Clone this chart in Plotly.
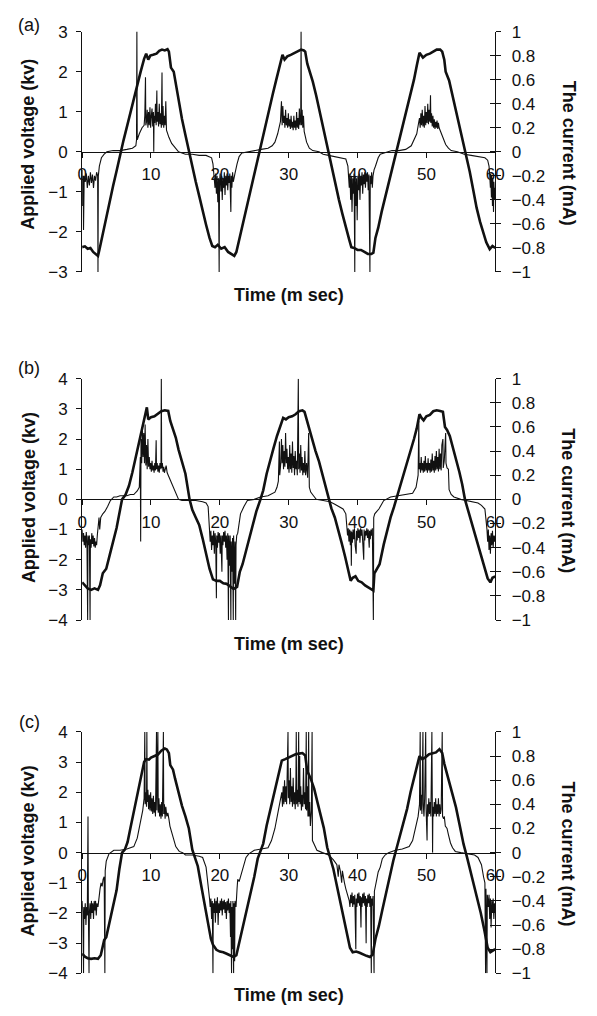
import plotly.graph_objects as go

# ---------------- Panel (a) ----------------
a_volt_t = [0, 0.4, 0.8, 1.2, 1.6, 2.0, 2.3, 2.5, 2.8, 3.1, 3.5, 4.0, 4.5, 5.0, 5.6, 6.0, 6.5, 7.0, 7.5, 8.0,
            8.5, 9.0, 9.3, 9.6, 9.9, 10.3, 10.8, 11.2, 11.6, 12.0, 12.4, 12.6, 12.9, 13.3, 13.6, 14.0, 14.5,
            15.0, 15.5, 16.0, 16.5, 17.0, 17.5, 18.0, 18.5, 18.9, 19.3, 19.7, 20.2, 20.7, 21.2, 21.7, 22.1,
            22.4, 22.8, 23.2, 23.7, 24.2, 24.7, 25.2, 25.7, 26.2, 26.7, 27.2, 27.7, 28.2, 28.7, 29.1, 29.4,
            29.8, 30.3, 30.8, 31.3, 31.8, 32.2, 32.4, 32.7, 33.0, 33.5, 34.0, 34.5, 35.0, 35.4, 35.8, 36.3,
            36.8, 37.3, 37.8, 38.3, 38.8, 39.1, 39.5, 40.0, 40.5, 41.0, 41.5, 42.0, 42.3, 42.6, 43.0, 43.5,
            44.0, 44.5, 45.0, 45.7, 46.2, 46.7, 47.2, 47.7, 48.2, 48.6, 49.0, 49.5, 50.0, 50.5, 51.0, 51.5,
            52.0, 52.3, 52.6, 52.8, 53.3, 53.8, 54.3, 54.8, 55.2, 55.8, 56.3, 56.8, 57.3, 57.8, 58.3, 58.7,
            59.2, 59.6, 60.0]
a_volt_kv = [-2.38, -2.36, -2.42, -2.4, -2.5, -2.55, -2.6, -2.45, -2.2, -1.95, -1.65, -1.25, -0.85, -0.48, 0.0,
             0.28, 0.62, 0.98, 1.32, 1.65, 2.0, 2.32, 2.45, 2.3, 2.4, 2.42, 2.45, 2.52, 2.55, 2.53, 2.56, 2.5,
             2.1, 2.0, 1.7, 1.28, 0.82, 0.42, 0.0, -0.38, -0.75, -1.1, -1.48, -1.82, -2.15, -2.35, -2.38, -2.32,
             -2.42, -2.38, -2.5, -2.55, -2.6, -2.5, -2.2, -1.9, -1.5, -1.1, -0.72, -0.35, 0.0, 0.35, 0.72, 1.08,
             1.45, 1.8, 2.15, 2.42, 2.3, 2.38, 2.42, 2.46, 2.5, 2.55, 2.53, 2.5, 2.2, 2.05, 1.75, 1.4, 1.0, 0.6,
             0.3, 0.0, -0.42, -0.82, -1.2, -1.55, -1.9, -2.2, -2.38, -2.4, -2.45, -2.45, -2.5, -2.55, -2.55,
             -2.52, -2.15, -1.9, -1.5, -1.15, -0.8, -0.45, 0.0, 0.4, 0.75, 1.1, 1.45, 1.8, 2.15, 2.47, 2.35,
             2.42, 2.45, 2.5, 2.55, 2.55, 2.5, 2.3, 2.0, 1.78, 1.4, 1.04, 0.7, 0.38, -0.05, -0.5, -0.95, -1.4,
             -1.75, -2.05, -2.26, -2.43, -2.35, -2.4]
a_curr_t = [0.0, 0.05, 0.15, 0.2, 0.3, 0.45, 0.6, 0.75, 0.9, 1.05, 1.2, 1.35, 1.5, 1.65, 1.8, 1.95, 2.1, 2.25,
            2.3, 2.35, 2.5, 2.8, 3.2, 3.6, 4.5, 5.5, 6.5, 7.3, 7.8, 7.9, 7.95, 8.0, 8.3, 8.7, 9.0, 9.1, 9.2,
            9.25, 9.35, 9.45, 9.55, 9.65, 9.75, 9.85, 9.95, 10.05, 10.15, 10.25, 10.35, 10.4, 10.45, 10.55,
            10.65, 10.75, 10.85, 10.9, 11.0, 11.1, 11.2, 11.3, 11.4, 11.5, 11.6, 11.65, 11.75, 11.85, 11.95,
            12.05, 12.15, 12.25, 12.4, 12.6, 13.0, 13.5, 14.0, 14.5, 15.0, 16.0, 17.0, 18.0, 18.8, 19.0, 19.2,
            19.3, 19.4, 19.5, 19.6, 19.7, 19.8, 19.9, 19.95, 20.05, 20.15, 20.25, 20.35, 20.45, 20.55, 20.65,
            20.75, 20.85, 20.95, 21.05, 21.15, 21.25, 21.35, 21.45, 21.6, 21.65, 21.75, 21.85, 21.95, 22.05,
            22.2, 22.5, 22.8, 23.2, 24.0, 25.0, 26.0, 27.0, 27.6, 28.0, 28.4, 28.8, 28.95, 29.05, 29.15, 29.25,
            29.35, 29.45, 29.55, 29.65, 29.75, 29.85, 29.95, 30.05, 30.15, 30.25, 30.35, 30.45, 30.55, 30.65,
            30.75, 30.85, 30.95, 31.05, 31.15, 31.25, 31.35, 31.45, 31.55, 31.65, 31.75, 31.8, 31.85, 31.95,
            32.05, 32.15, 32.25, 32.4, 32.6, 33.0, 33.5, 34.4, 35.0, 35.8, 36.5, 37.5, 38.3, 38.6, 38.7, 38.8,
            38.9, 39.0, 39.1, 39.2, 39.3, 39.4, 39.5, 39.6, 39.65, 39.75, 39.85, 39.95, 40.05, 40.15, 40.25,
            40.35, 40.45, 40.55, 40.65, 40.75, 40.85, 40.95, 41.05, 41.15, 41.25, 41.35, 41.45, 41.55, 41.65,
            41.8, 41.85, 41.95, 42.05, 42.15, 42.25, 42.4, 42.6, 43.0, 43.3, 44.3, 45.0, 46.0, 47.0, 47.8,
            48.2, 48.6, 48.9, 49.0, 49.1, 49.2, 49.3, 49.4, 49.5, 49.6, 49.7, 49.8, 49.9, 50.0, 50.1, 50.2,
            50.3, 50.4, 50.5, 50.6, 50.65, 50.75, 50.85, 50.95, 51.05, 51.15, 51.25, 51.35, 51.45, 51.55,
            51.65, 51.75, 51.85, 52.0, 52.2, 52.5, 52.8, 53.2, 53.6, 54.5, 55.5, 56.5, 57.5, 58.5, 58.9, 59.1,
            59.2, 59.3, 59.35, 59.45, 59.5, 59.6, 59.65, 59.75, 59.8, 59.9, 60.0]
a_curr_ma = [-0.15, -0.45, -0.2, -0.65, -0.2, -0.25, -0.18, -0.3, -0.2, -0.28, -0.17, -0.26, -0.19, -0.3, -0.2,
             -0.24, -0.17, -0.2, -1.0, -0.2, -0.12, -0.05, -0.02, 0.0, 0.01, 0.01, 0.02, 0.03, 0.05, 0.1, 1.0,
             0.1, 0.15, 0.2, 0.22, 0.3, 0.62, 0.22, 0.25, 0.35, 0.2, 0.33, 0.22, 0.37, 0.2, 0.3, 0.36, 0.21,
             0.33, 0.0, 0.3, 0.24, 0.4, 0.22, 0.51, 0.25, 0.33, 0.21, 0.4, 0.23, 0.32, 0.2, 0.66, 0.22, 0.38,
             0.2, 0.3, 0.22, 0.42, 0.18, 0.15, 0.12, 0.07, 0.03, 0.0, -0.01, -0.02, -0.02, -0.03, -0.03, -0.05,
             -0.1, -0.2, -0.3, -0.18, -0.35, -0.2, -0.42, -0.22, -1.0, -0.25, -0.18, -0.33, -0.2, -0.4, -0.22,
             -0.3, -0.17, -0.36, -0.2, -0.28, -0.18, -0.32, -0.2, -0.26, -0.18, -0.5, -0.2, -0.3, -0.17, -0.25,
             -0.2, -0.18, -0.1, -0.04, -0.01, 0.0, 0.01, 0.02, 0.03, 0.05, 0.08, 0.15, 0.25, 0.42, 0.22, 0.38,
             0.24, 0.3, 0.2, 0.35, 0.22, 0.28, 0.2, 0.32, 0.21, 0.27, 0.19, 0.3, 0.2, 0.25, 0.18, 0.3, 0.2, 0.26,
             0.18, 0.33, 0.2, 0.28, 0.19, 0.36, 0.22, 0.3, 1.0, 0.22, 0.35, 0.2, 0.3, 0.17, 0.12, 0.08, 0.03,
             0.01, 0.0, -0.02, -0.03, -0.04, -0.05, -0.06, -0.12, -0.2, -0.3, -0.18, -0.4, -0.2, -0.5, -0.22,
             -0.35, -0.18, -1.0, -0.2, -0.45, -0.22, -0.57, -0.2, -0.32, -0.18, -0.4, -0.2, -0.28, -0.17, -0.35,
             -0.19, -0.27, -0.17, -0.3, -0.18, -0.25, -0.17, -0.32, -0.19, -1.0, -0.2, -0.27, -0.17, -0.3, -0.2,
             -0.15, -0.12, -0.05, -0.02, 0.0, 0.01, 0.01, 0.02, 0.05, 0.1, 0.15, 0.25, 0.28, 0.2, 0.32, 0.22,
             0.35, 0.21, 0.3, 0.2, 0.38, 0.22, 0.33, 0.24, 0.4, 0.23, 0.35, 0.25, 0.47, 0.24, 0.32, 0.21, 0.3,
             0.2, 0.27, 0.19, 0.25, 0.2, 0.26, 0.19, 0.24, 0.2, 0.18, 0.15, 0.1, 0.06, 0.03, 0.01, 0.0, -0.02,
             -0.03, -0.04, -0.05, -0.07, -0.12, -0.2, -0.3, -0.18, -0.38, -0.2, -0.45, -0.22, -0.5, -0.25, -0.4,
             -0.3]

# ---------------- Panel (b) ----------------
b_volt_t = [0, 0.4, 0.8, 1.3, 1.8, 2.3, 2.6, 3.0, 3.5, 4.0, 4.5, 5.0, 5.5, 5.8, 6.3, 6.8, 7.3, 7.8, 8.3, 8.7,
            9.0, 9.3, 9.4, 9.6, 10.0, 10.5, 11.0, 11.5, 12.0, 12.5, 12.8, 13.2, 13.6, 14.0, 14.5, 15.0, 15.6,
            16.0, 16.5, 17.0, 17.5, 18.0, 18.5, 19.0, 19.5, 20.0, 20.5, 21.0, 21.5, 22.0, 22.5, 22.9, 23.3,
            23.8, 24.3, 24.8, 25.3, 25.9, 26.3, 26.8, 27.3, 27.8, 28.3, 28.8, 29.2, 29.6, 30.0, 30.5, 31.0,
            31.5, 32.0, 32.3, 32.6, 33.0, 33.4, 33.9, 34.4, 34.9, 35.3, 35.8, 36.2, 36.7, 37.2, 37.7, 38.2,
            38.6, 39.0, 39.3, 39.7, 40.1, 40.6, 41.1, 41.6, 42.0, 42.3, 42.45, 42.8, 43.2, 43.8, 44.3, 44.8,
            45.3, 45.7, 46.2, 46.7, 47.2, 47.7, 48.2, 48.6, 49.0, 49.3, 49.6, 50.0, 50.5, 51.0, 51.5, 52.0,
            52.4, 52.7, 53.0, 53.4, 53.9, 54.3, 54.8, 55.2, 55.6, 56.1, 56.6, 57.1, 57.6, 58.1, 58.5, 58.9,
            59.3, 59.6, 60.0]
b_volt_kv = [-2.75, -2.85, -2.95, -3.0, -2.95, -3.0, -2.85, -2.45, -2.3, -1.85, -1.4, -0.95, -0.35, 0.0, 0.15,
             0.45, 0.9, 1.4, 1.9, 2.3, 2.55, 2.95, 3.05, 2.65, 2.72, 2.75, 2.83, 2.92, 2.95, 2.93, 2.6, 2.35,
             2.05, 1.65, 1.25, 0.85, 0.0, -0.35, -0.6, -0.85, -1.3, -1.85, -2.3, -2.65, -2.7, -2.7, -2.78, -2.8,
             -2.88, -2.97, -2.9, -2.4, -2.15, -1.7, -1.2, -0.8, -0.4, 0.0, 0.3, 0.85, 1.3, 1.7, 2.1, 2.45, 2.7,
             2.65, 2.72, 2.75, 2.82, 2.92, 2.95, 2.9, 2.65, 2.3, 1.95, 1.6, 1.26, 0.8, 0.45, 0.0, -0.3, -0.6,
             -1.0, -1.45, -1.9, -2.32, -2.7, -2.6, -2.55, -2.7, -2.75, -2.85, -2.92, -2.98, -3.02, -2.45, -2.3,
             -2.15, -1.5, -1.0, -0.6, -0.25, 0.05, 0.45, 0.85, 1.2, 1.6, 2.0, 2.35, 2.82, 2.7, 2.62, 2.75, 2.8,
             2.92, 2.95, 2.93, 2.9, 2.4, 2.3, 2.1, 1.7, 1.35, 0.9, 0.5, 0.0, -0.4, -0.8, -1.2, -1.6, -1.95,
             -2.25, -2.62, -2.75, -2.6, -2.55]
b_curr_t = [0.0, 0.1, 0.2, 0.3, 0.4, 0.5, 0.6, 0.7, 0.8, 0.85, 0.95, 1.05, 1.15, 1.2, 1.3, 1.4, 1.5, 1.6, 1.7,
            1.8, 1.9, 2.0, 2.1, 2.2, 2.3, 2.45, 2.55, 2.7, 3.0, 3.3, 3.7, 4.1, 4.6, 5.0, 5.5, 6.0, 6.5, 7.0,
            7.5, 8.0, 8.3, 8.45, 8.5, 8.55, 8.65, 8.75, 8.85, 8.95, 9.05, 9.15, 9.25, 9.35, 9.45, 9.55, 9.65,
            9.75, 9.85, 9.95, 10.05, 10.15, 10.25, 10.35, 10.45, 10.55, 10.65, 10.75, 10.8, 10.9, 11.0, 11.1,
            11.2, 11.3, 11.45, 11.5, 11.55, 11.65, 11.75, 11.85, 11.95, 12.05, 12.2, 12.35, 12.5, 12.8, 13.0,
            13.3, 13.6, 14.0, 14.5, 15.5, 16.5, 17.5, 18.0, 18.3, 18.5, 18.6, 18.7, 18.8, 18.9, 19.0, 19.1,
            19.2, 19.3, 19.4, 19.5, 19.55, 19.65, 19.75, 19.85, 19.95, 20.05, 20.15, 20.3, 20.35, 20.45, 20.55,
            20.65, 20.75, 20.85, 20.95, 21.05, 21.15, 21.25, 21.3, 21.4, 21.5, 21.6, 21.65, 21.75, 21.85,
            21.95, 22.0, 22.1, 22.2, 22.3, 22.35, 22.45, 22.6, 22.8, 23.0, 23.5, 24.0, 25.0, 25.9, 27.0, 27.6,
            28.0, 28.3, 28.5, 28.65, 28.7, 28.85, 28.95, 29.05, 29.15, 29.25, 29.35, 29.45, 29.55, 29.65,
            29.75, 29.85, 29.95, 30.05, 30.15, 30.25, 30.35, 30.45, 30.55, 30.65, 30.75, 30.85, 30.95, 31.05,
            31.15, 31.25, 31.4, 31.45, 31.55, 31.65, 31.75, 31.85, 31.95, 32.05, 32.15, 32.25, 32.35, 32.45,
            32.6, 32.75, 32.9, 33.0, 33.2, 33.6, 34.0, 35.0, 36.0, 36.7, 37.3, 37.9, 38.3, 38.45, 38.55,
            38.65, 38.75, 38.85, 38.95, 39.05, 39.1, 39.15, 39.25, 39.35, 39.45, 39.55, 39.65, 39.8, 39.85,
            39.95, 40.05, 40.15, 40.25, 40.35, 40.45, 40.55, 40.65, 40.75, 40.9, 40.95, 41.05, 41.15, 41.25,
            41.35, 41.45, 41.55, 41.7, 41.75, 41.85, 41.95, 42.05, 42.15, 42.3, 42.35, 42.5, 42.8, 43.1, 43.5,
            43.8, 44.8, 46.0, 47.0, 48.0, 48.5, 48.8, 48.9, 48.95, 49.05, 49.15, 49.25, 49.35, 49.45, 49.55,
            49.65, 49.75, 49.85, 49.95, 50.05, 50.15, 50.25, 50.35, 50.45, 50.55, 50.65, 50.75, 50.85, 50.95,
            51.05, 51.15, 51.25, 51.35, 51.45, 51.55, 51.65, 51.75, 51.85, 51.95, 52.05, 52.15, 52.25, 52.4,
            52.45, 52.6, 52.8, 52.85, 53.0, 53.2, 53.3, 53.6, 54.0, 55.0, 56.0, 57.0, 57.5, 58.0, 58.5, 58.8,
            58.9, 59.0, 59.1, 59.2, 59.3, 59.4, 59.5, 59.6, 59.7, 59.8, 59.9, 60.0]
b_curr_ma = [-0.25, -0.35, -0.28, -0.38, -0.3, -0.4, -0.27, -0.36, -1.0, -0.3, -0.38, -0.3, -1.0, -0.33, -0.4,
             -0.28, -0.37, -0.3, -0.39, -0.32, -0.4, -0.35, -0.38, -0.3, -0.22, -0.15, -0.25, -0.15, -0.12,
             -0.1, -0.06, -0.01, 0.02, 0.02, 0.03, 0.03, 0.03, 0.04, 0.04, 0.07, 0.1, 0.35, -0.35, 0.5, 0.3,
             0.6, 0.35, 0.55, 0.3, 0.62, 0.28, 0.45, 0.25, 0.5, 0.27, 0.35, 0.25, 0.3, 0.23, 0.32, 0.24, 0.28,
             0.22, 0.3, 0.24, 0.49, 0.25, 0.3, 0.23, 0.28, 0.22, 0.3, 0.25, 1.0, 0.26, 0.3, 0.23, 0.27, 0.22,
             0.26, 0.28, 0.22, 0.2, 0.15, 0.12, 0.08, 0.04, 0.0, -0.01, -0.01, -0.01, -0.02, -0.03, -0.06,
             -0.25, -0.35, -0.26, -0.42, -0.3, -0.38, -0.26, -0.45, -0.28, -0.35, -0.82, -0.3, -0.4, -0.27,
             -0.36, -0.28, -0.45, -0.3, -0.6, -0.3, -0.38, -0.27, -0.35, -0.26, -0.4, -0.3, -0.5, -0.28, -1.0,
             -0.3, -0.55, -0.3, -1.0, -0.35, -0.6, -0.32, -1.0, -0.3, -0.7, -0.35, -1.0, -0.38, -0.3, -0.28,
             -0.2, -0.12, -0.06, -0.01, 0.0, 0.02, 0.03, 0.05, 0.06, 0.1, 0.15, 0.48, 0.2, 0.3, 0.5, 0.3, 0.45,
             0.25, 0.4, 0.27, 0.55, 0.3, 0.42, 0.25, 0.35, 0.22, 0.45, 0.25, 0.38, 0.22, 0.48, 0.26, 0.36, 0.2,
             0.4, 0.25, 0.32, 0.2, 1.0, 0.25, 0.38, 0.22, 0.45, 0.24, 0.35, 0.2, 0.3, 0.22, 0.4, 0.2, 0.3, 0.18,
             0.55, 0.1, 0.06, 0.03, 0.0, -0.01, -0.02, -0.04, -0.06, -0.08, -0.12, -0.2, -0.3, -0.24, -0.35,
             -0.25, -0.38, -0.26, -0.55, -0.27, -0.36, -0.25, -0.33, -0.24, -0.38, -0.45, -0.26, -0.34, -0.24,
             -0.32, -0.25, -0.36, -0.24, -0.3, -0.25, -0.33, -0.5, -0.25, -0.34, -0.26, -0.3, -0.24, -0.32,
             -0.25, -0.4, -0.26, -0.33, -0.25, -0.3, -0.24, -1.0, -0.15, -0.12, -0.1, -0.08, -0.04, -0.01,
             0.02, 0.03, 0.04, 0.05, 0.1, 0.2, 0.65, 0.25, 0.3, 0.22, 0.35, 0.24, 0.3, 0.22, 0.32, 0.23, 0.36,
             0.24, 0.3, 0.22, 0.34, 0.24, 0.3, 0.22, 0.33, 0.23, 0.38, 0.24, 0.32, 0.22, 0.36, 0.24, 0.4, 0.25,
             0.35, 0.23, 0.42, 0.25, 0.38, 0.24, 0.45, 0.5, 0.26, 0.32, 0.55, 0.3, 0.26, 0.25, 0.08, 0.04, 0.02,
             0.0, -0.01, -0.02, -0.03, -0.05, -0.08, -0.25, -0.35, -0.25, -0.42, -0.3, -0.45, -0.28, -0.38,
             -0.26, -0.4, -0.3, -0.35, -0.3]

# ---------------- Panel (c) ----------------
c_volt_t = [0, 0.4, 0.8, 1.3, 1.8, 2.3, 2.7, 3.0, 3.2, 3.5, 4.0, 4.5, 5.0, 5.4, 5.8, 6.2, 6.6, 7.0, 7.5, 8.0,
            8.5, 9.0, 9.3, 9.7, 10.0, 10.5, 11.0, 11.5, 12.0, 12.3, 12.6, 12.8, 13.2, 13.5, 14.0, 14.5, 15.0,
            15.5, 16.0, 16.3, 16.8, 17.3, 17.8, 18.3, 18.7, 19.0, 19.5, 20.0, 20.5, 21.0, 21.5, 22.0, 22.4,
            22.7, 23.0, 23.5, 24.0, 24.5, 25.0, 25.5, 25.9, 26.3, 26.8, 27.3, 27.8, 28.3, 28.7, 29.0, 29.5,
            30.0, 30.5, 31.0, 31.5, 32.0, 32.4, 32.7, 33.2, 33.7, 34.2, 34.7, 35.1, 35.6, 36.0, 36.5, 37.0,
            37.5, 38.0, 38.5, 38.9, 39.3, 39.8, 40.3, 40.8, 41.3, 41.8, 42.2, 42.6, 43.1, 43.6, 44.1, 44.6,
            45.2, 45.7, 46.2, 46.7, 47.2, 47.7, 48.2, 48.6, 49.0, 49.4, 49.8, 50.4, 50.9, 51.4, 51.9, 52.3,
            52.6, 52.9, 53.3, 53.8, 54.3, 54.8, 55.4, 55.9, 56.4, 56.9, 57.4, 57.9, 58.4, 58.9, 59.3, 59.7,
            60.0]
c_volt_kv = [-3.35, -3.45, -3.5, -3.52, -3.5, -3.52, -3.4, -3.15, -2.9, -2.8, -2.3, -1.8, -1.25, -0.55, 0.0,
             0.1, 0.35, 0.8, 1.35, 1.95, 2.5, 3.0, 3.1, 3.08, 3.15, 3.2, 3.25, 3.38, 3.45, 3.42, 3.3, 2.9, 2.75,
             2.45, 1.95, 1.55, 1.2, 0.8, 0.1, -0.1, -0.45, -1.1, -1.75, -2.4, -2.85, -3.05, -3.22, -3.28, -3.3,
             -3.35, -3.4, -3.46, -3.4, -3.1, -2.75, -2.35, -1.8, -1.35, -0.8, -0.2, 0.05, 0.3, 0.9, 1.4, 1.9,
             2.4, 2.8, 3.05, 3.1, 3.15, 3.2, 3.26, 3.28, 3.3, 3.22, 2.7, 2.45, 2.12, 1.65, 1.2, 0.82, 0.17,
             -0.15, -0.55, -1.1, -1.65, -2.2, -2.75, -3.15, -3.3, -3.28, -3.32, -3.38, -3.42, -3.46, -3.38,
             -2.86, -2.43, -1.9, -1.35, -0.9, -0.26, 0.17, 0.6, 1.05, 1.45, 2.0, 2.5, 2.88, 3.2, 3.1, 3.15,
             3.26, 3.3, 3.32, 3.43, 3.3, 2.95, 2.7, 2.4, 1.95, 1.5, 0.95, 0.28, -0.15, -0.6, -1.1, -1.55, -2.0,
             -2.55, -3.15, -3.3, -3.25, -3.2]
c_curr_t = [0.0, 0.1, 0.2, 0.25, 0.35, 0.45, 0.55, 0.65, 0.75, 0.85, 0.9, 1.0, 1.05, 1.15, 1.25, 1.35, 1.45,
            1.55, 1.65, 1.75, 1.85, 1.95, 2.05, 2.15, 2.3, 2.45, 2.6, 2.75, 2.9, 3.05, 3.2, 3.3, 3.35, 3.5, 3.7,
            3.9, 4.6, 5.5, 6.5, 7.0, 7.5, 8.0, 8.5, 8.8, 9.0, 9.1, 9.15, 9.25, 9.35, 9.4, 9.45, 9.55, 9.65,
            9.75, 9.85, 9.95, 10.05, 10.15, 10.25, 10.35, 10.45, 10.55, 10.65, 10.8, 10.85, 11.0, 11.05,
            11.15, 11.25, 11.35, 11.45, 11.55, 11.65, 11.8, 11.85, 11.95, 12.05, 12.15, 12.3, 12.45, 12.6,
            12.75, 13.0, 13.3, 13.6, 14.1, 14.6, 15.0, 16.0, 17.0, 17.5, 18.0, 18.3, 18.5, 18.6, 18.7, 18.8,
            18.9, 19.0, 19.05, 19.15, 19.25, 19.35, 19.45, 19.55, 19.65, 19.75, 19.85, 19.95, 20.05, 20.15,
            20.25, 20.35, 20.45, 20.55, 20.65, 20.75, 20.85, 20.95, 21.05, 21.15, 21.25, 21.35, 21.45, 21.55,
            21.6, 21.7, 21.75, 21.85, 21.9, 22.0, 22.05, 22.15, 22.2, 22.35, 22.5, 22.6, 22.8, 23.0, 23.2,
            23.5, 23.8, 24.2, 25.0, 26.0, 27.0, 27.5, 28.0, 28.5, 28.8, 29.0, 29.1, 29.2, 29.3, 29.4, 29.5,
            29.6, 29.7, 29.8, 29.9, 29.95, 30.05, 30.15, 30.25, 30.35, 30.45, 30.55, 30.65, 30.75, 30.85,
            30.95, 31.05, 31.1, 31.15, 31.25, 31.35, 31.45, 31.5, 31.6, 31.65, 31.75, 31.85, 31.95, 32.05,
            32.15, 32.25, 32.35, 32.45, 32.55, 32.6, 32.7, 32.8, 32.9, 32.95, 33.05, 33.15, 33.3, 33.4,
            33.45, 33.7, 34.1, 34.9, 35.8, 36.5, 37.0, 37.2, 37.3, 37.5, 37.7, 37.8, 37.9, 38.1, 38.3, 38.6,
            38.8, 38.9, 39.0, 39.1, 39.2, 39.3, 39.4, 39.5, 39.6, 39.75, 39.8, 39.9, 40.0, 40.1, 40.2, 40.3,
            40.4, 40.5, 40.55, 40.65, 40.75, 40.85, 40.95, 41.05, 41.15, 41.25, 41.3, 41.4, 41.5, 41.6, 41.7,
            41.8, 41.9, 42.0, 42.05, 42.15, 42.25, 42.4, 42.45, 42.6, 42.8, 43.0, 43.3, 43.6, 44.0, 44.5, 45.5,
            46.5, 47.5, 48.0, 48.5, 48.8, 49.0, 49.1, 49.15, 49.25, 49.35, 49.5, 49.55, 49.65, 49.75, 49.9,
            49.95, 50.1, 50.15, 50.25, 50.35, 50.45, 50.55, 50.65, 50.8, 50.85, 50.9, 50.95, 51.05, 51.15,
            51.25, 51.35, 51.45, 51.55, 51.65, 51.75, 51.85, 51.95, 52.05, 52.15, 52.3, 52.35, 52.5, 52.6,
            52.75, 53.0, 53.2, 53.5, 53.8, 54.2, 55.0, 56.0, 57.0, 57.5, 58.0, 58.3, 58.5, 58.6, 58.65, 58.8,
            58.85, 59.0, 59.1, 59.2, 59.3, 59.4, 59.5, 59.6, 59.7, 59.8, 59.9, 60.0]
c_curr_ma = [-0.4, -0.5, -1.0, -0.45, -0.55, -0.42, -0.6, -0.45, -0.52, 0.3, -0.45, -1.0, -0.5, -0.42, -0.55,
             -0.4, -0.5, -0.42, -0.55, -0.4, -0.48, -0.4, -0.52, -0.42, -0.45, -0.35, -0.3, -0.25, -0.28, -0.22,
             -0.2, -1.0, -0.15, -0.07, -0.03, -0.01, 0.02, 0.02, 0.03, 0.04, 0.05, 0.12, 0.25, 0.35, 0.45, 1.0,
             0.4, 0.5, 0.38, 1.0, 0.42, 0.52, 0.36, 0.48, 0.35, 0.5, 0.34, 0.45, 0.32, 0.47, 0.33, 0.42, 0.3,
             1.0, 0.35, 1.0, 0.33, 0.45, 0.3, 0.4, 0.28, 0.42, 0.3, 1.0, 0.32, 0.4, 0.28, 0.38, 0.3, 0.33, 0.28,
             0.22, 0.17, 0.1, 0.05, 0.01, 0.0, -0.02, -0.02, -0.03, -0.04, -0.12, -0.25, -0.38, -0.45, -0.38,
             -0.55, -0.4, -1.0, -0.42, -0.5, -0.38, -0.58, -0.4, -0.5, -0.37, -0.6, -0.42, -0.5, -0.4, -0.48,
             -0.38, -0.52, -0.4, -0.47, -0.39, -0.5, -0.41, -0.55, -0.4, -0.48, -0.38, -0.5, -0.42, -0.7, -0.4,
             -1.0, -0.45, -0.8, -0.4, -1.0, -0.42, -0.9, -0.4, -0.45, -0.3, -0.22, -0.24, -0.2, -0.15, -0.1,
             -0.04, -0.01, 0.02, 0.03, 0.04, 0.1, 0.2, 0.35, 0.45, 0.5, 0.38, 0.55, 0.4, 0.6, 0.42, 0.55, 0.4,
             0.65, 1.0, 0.45, 0.6, 0.4, 0.7, 0.42, 0.55, 0.38, 0.62, 0.4, 0.5, 0.36, 0.58, 1.0, 0.4, 0.52, 0.38,
             1.0, 0.42, 0.8, 0.4, 0.55, 0.35, 0.48, 0.38, 0.7, 0.4, 0.5, 0.36, 1.0, 0.35, 0.55, 0.3, 1.0, 0.3,
             0.42, 0.22, 0.35, 1.0, 0.1, 0.07, 0.02, 0.0, -0.02, -0.06, -0.1, -0.2, -0.1, -0.15, -0.25, -0.15,
             -0.2, -0.25, -0.3, -0.35, -0.4, -0.45, -0.35, -0.42, -0.33, -0.45, -0.36, -0.43, -0.35, -0.8,
             -0.38, -0.45, -0.34, -0.42, -0.33, -0.44, -0.36, -0.62, -0.37, -0.45, -0.34, -0.42, -0.33, -0.44,
             -0.36, -0.75, -0.38, -0.45, -0.35, -0.42, -0.34, -0.45, -0.36, -1.0, -0.38, -0.44, -0.36, -1.0,
             -0.32, -0.26, -0.22, -0.16, -0.12, -0.05, -0.02, 0.0, 0.02, 0.03, 0.05, 0.1, 0.22, 0.3, 0.4, 1.0,
             0.35, 0.48, 0.32, 1.0, 0.4, 0.3, 0.45, 1.0, 0.38, 0.1, 0.4, 0.3, 0.45, 0.32, 0.42, 0.3, 1.0, 0.35,
             0.0, 0.38, 0.3, 0.42, 0.32, 0.45, 0.3, 0.4, 0.32, 0.45, 0.3, 0.4, 0.32, 0.36, 1.0, 0.3, 0.28, 0.3,
             0.22, 0.2, 0.15, 0.08, 0.04, 0.01, 0.0, -0.01, -0.02, -0.04, -0.1, -0.2, -0.25, -1.0, -0.3, -1.0,
             -0.35, -0.45, -0.35, -0.55, -0.38, -0.62, -0.4, -0.5, -0.38, -0.55, -0.42, -0.5]

panel_labels = ["(a)", "(b)", "(c)"]
volt_ranges = [[-3, 3], [-4, 4], [-4, 4]]
curr_range = [-1, 1]
x_ticks_range = [0, 60]
x_title = "Time (m sec)"
yl_title = "Applied voltage (kv)"
yr_title = "The current (mA)"

# ---------------- Layout geometry (page pixels) ----------------
W, H = 597, 1016
PX_LEFT, PX_RIGHT = 79, 502
panel_px = [(23, 268), (376.7, 622.7), (736.7, 982.7)]   # (top, bottom) of each plot area
ylab_center = [138, 498, 858]
yr_center = [147, 501, 861]
xtitle_y = [291, 647, 1005]
plabel_y = [16.5, 365.5, 726.5]

FONT = "Liberation Sans, Arial, Helvetica, sans-serif"
INK = "#111111"
tickfont = dict(family=FONT, size=17, color=INK)

def px(xp):
    return xp / W

def py(yp):
    return 1 - yp / H

series = [
    (a_volt_t, a_volt_kv, a_curr_t, a_curr_ma),
    (b_volt_t, b_volt_kv, b_curr_t, b_curr_ma),
    (c_volt_t, c_volt_kv, c_curr_t, c_curr_ma),
]

fig = go.Figure()
layout = dict(
    width=W, height=H,
    margin=dict(l=0, r=0, t=0, b=0),
    paper_bgcolor="white", plot_bgcolor="rgba(0,0,0,0)",
    showlegend=False, hovermode=False,
    font=dict(family=FONT, color=INK),
)
annotations = []

for i, (vt, vv, ct, cv) in enumerate(series):
    k = i + 1
    xn = "x" if k == 1 else f"x{k}"
    yl = f"y{2 * k - 1}" if k > 1 else "y"
    yr = f"y{2 * k}"
    yi = f"y{6 + k}"
    top, bot = panel_px[i]
    ydom = [py(bot), py(top)]

    fig.add_trace(go.Scatter(x=ct, y=cv, xaxis=xn, yaxis=yr, mode="lines",
                             line=dict(color=INK, width=1.1), hoverinfo="skip"))
    fig.add_trace(go.Scatter(x=vt, y=vv, xaxis=xn, yaxis=yl, mode="lines",
                             line=dict(color=INK, width=2.6), hoverinfo="skip"))
    fig.add_trace(go.Scatter(x=[], y=[], xaxis=xn, yaxis=yi, mode="lines", hoverinfo="skip"))

    xkey = "xaxis" if k == 1 else f"xaxis{k}"
    ylkey = "yaxis" if k == 1 else f"yaxis{2 * k - 1}"
    yrkey = f"yaxis{2 * k}"
    yikey = f"yaxis{6 + k}"

    layout[xkey] = dict(
        domain=[px(PX_LEFT), px(PX_RIGHT)], anchor="free", position=py((top + bot) / 2),
        range=x_ticks_range, tickmode="linear", tick0=0, dtick=10,
        showline=True, linecolor=INK, linewidth=1, ticks="outside", ticklen=5, tickcolor=INK,
        showgrid=False, zeroline=False, tickfont=tickfont, fixedrange=True, ticklabelstandoff=2,
    )
    layout[ylkey] = dict(
        domain=ydom, anchor=xn, range=volt_ranges[i], tickmode="linear", tick0=0, dtick=1,
        showline=True, linecolor=INK, linewidth=1, ticks="outside", ticklen=5, tickcolor=INK,
        showgrid=False, zeroline=False, tickfont=tickfont, fixedrange=True, ticklabelstandoff=5,
    )
    layout[yrkey] = dict(
        overlaying=yl, side="right", anchor=xn, range=curr_range, tickmode="linear", tick0=0, dtick=0.2,
        showline=True, linecolor=INK, linewidth=1, ticks="outside", ticklen=5, tickcolor=INK,
        showgrid=False, zeroline=False, tickfont=tickfont, fixedrange=True, ticklabelstandoff=7,
    )
    layout[yikey] = dict(
        overlaying=yl, side="right", anchor=xn, range=curr_range, tickmode="linear", tick0=0, dtick=0.2,
        showline=False, ticks="inside", ticklen=5, tickcolor=INK, showticklabels=False,
        showgrid=False, zeroline=False, fixedrange=True,
    )

    annotations += [
        dict(text=panel_labels[i], x=px(25), y=py(plabel_y[i]), xref="paper", yref="paper",
             showarrow=False, xanchor="center", yanchor="middle",
             font=dict(family=FONT, size=18, color=INK)),
        dict(text=yl_title, x=px(24), y=py(ylab_center[i]), xref="paper", yref="paper",
             showarrow=False, xanchor="center", yanchor="middle", textangle=-90,
             font=dict(family=FONT, size=18, color=INK, weight="bold")),
        dict(text=yr_title, x=px(577), y=py(yr_center[i]), xref="paper", yref="paper",
             showarrow=False, xanchor="center", yanchor="middle", textangle=90,
             font=dict(family=FONT, size=18, color=INK, weight="bold")),
        dict(text=x_title, x=px(291), y=py(xtitle_y[i]), xref="paper", yref="paper",
             showarrow=False, xanchor="center", yanchor="middle",
             font=dict(family=FONT, size=18, color=INK, weight="bold")),
    ]

layout["annotations"] = annotations
fig.update_layout(**layout)
fig.write_html(
    "out.html",
    config={"displayModeBar": False},
    post_script="document.body.style.margin='0px';document.documentElement.style.overflow='hidden';",
)
